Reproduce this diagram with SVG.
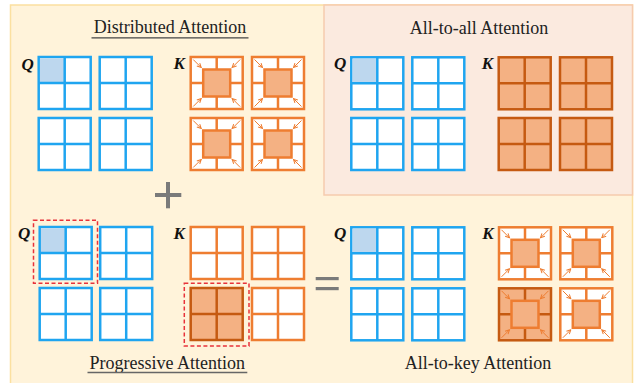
<svg xmlns="http://www.w3.org/2000/svg" width="635" height="383" viewBox="0 0 635 383">
<style>
.title{font-family:"Liberation Serif",serif;font-size:18px;fill:#222;text-anchor:middle}
.lbl{font-family:"Liberation Serif",serif;font-size:17px;font-weight:bold;font-style:italic;fill:#111}
.qb{fill:#fff;stroke:#1fa5f0;stroke-width:2.5}
.ql{stroke:#1fa5f0;stroke-width:2.5}
.kb{fill:#fff;stroke:#ee7d31;stroke-width:2.5}
.kl{stroke:#ee7d31;stroke-width:2.5}
.kfb{fill:#f4b183;stroke:#c55a11;stroke-width:2.5}
.kfl{stroke:#c55a11;stroke-width:2.5}
.inner{fill:#f4b183;stroke:#ee7d31;stroke-width:2.5}
.arr{stroke:#ee7d31;stroke-width:1;fill:none;marker-end:url(#ah)}
.red{fill:none;stroke:#e8323a;stroke-width:1.5;stroke-dasharray:4 2.5}
.op{fill:#7a7a7a}
</style>
<defs>
<marker id="ah" viewBox="0 0 8 8" refX="7" refY="4" markerWidth="5.5" markerHeight="5.5" orient="auto" markerUnits="userSpaceOnUse">
<path d="M1,1 L7,4 L1,7" fill="none" stroke="#ee7d31" stroke-width="1.5"/>
</marker>
<g id="qgrid"><rect class="qb" x="0" y="0" width="52" height="52"/><line class="ql" x1="26" y1="0" x2="26" y2="52"/><line class="ql" x1="0" y1="26" x2="52" y2="26"/></g>
<g id="qgridhl"><rect class="qb" x="0" y="0" width="52" height="52"/><rect x="1.25" y="1.25" width="24.75" height="24.75" fill="#bdd7ee"/><line class="ql" x1="26" y1="0" x2="26" y2="52"/><line class="ql" x1="0" y1="26" x2="52" y2="26"/></g>
<g id="kgrid"><rect class="kb" x="0" y="0" width="52" height="52"/><line class="kl" x1="26" y1="0" x2="26" y2="52"/><line class="kl" x1="0" y1="26" x2="52" y2="26"/></g>
<g id="kgridf"><rect class="kfb" x="0" y="0" width="52" height="52"/><line class="kfl" x1="26" y1="0" x2="26" y2="52"/><line class="kfl" x1="0" y1="26" x2="52" y2="26"/></g>
<g id="arrows">
<line class="arr" x1="2.5" y1="2.5" x2="10.5" y2="10.5"/>
<line class="arr" x1="49.5" y1="2.5" x2="41.5" y2="10.5"/>
<line class="arr" x1="2.5" y1="49.5" x2="10.5" y2="41.5"/>
<line class="arr" x1="49.5" y1="49.5" x2="41.5" y2="41.5"/>
</g>
<g id="kattn"><use href="#kgrid"/><rect class="inner" x="12.5" y="12.5" width="27" height="27"/><use href="#arrows"/></g>
<g id="kattnf"><use href="#kgridf"/><rect class="inner" x="12.5" y="12.5" width="27" height="27"/><use href="#arrows"/></g>
</defs>

<g id="background">
<rect x="10.5" y="5" width="622" height="395" fill="#fff3da" stroke="#fbe0a0" stroke-width="1.5"/>
<rect x="324" y="5" width="308.5" height="190" fill="#fbeadf" stroke="#f6cbae" stroke-width="1.5"/>
</g>

<g id="distributed">
<text class="title" x="170" y="33.3">Distributed Attention</text>
<line x1="91.5" y1="37.8" x2="248.5" y2="37.8" stroke="#444" stroke-width="1.2"/>
<text class="lbl" x="21.5" y="69.5">Q</text>
<use href="#qgridhl" x="38.7" y="57"/>
<use href="#qgrid" x="99.7" y="57"/>
<use href="#qgrid" x="38.7" y="118"/>
<use href="#qgrid" x="99.7" y="118"/>
<text class="lbl" x="173.5" y="68.5">K</text>
<use href="#kattn" x="190.7" y="57"/>
<use href="#kattn" x="252" y="57"/>
<use href="#kattn" x="190.7" y="118"/>
<use href="#kattn" x="252" y="118"/>
</g>

<g id="alltoall">
<text class="title" x="479" y="34.3">All-to-all Attention</text>
<text class="lbl" x="334" y="69">Q</text>
<use href="#qgridhl" x="351.3" y="57.3"/>
<use href="#qgrid" x="412.3" y="57.3"/>
<use href="#qgrid" x="351.3" y="118"/>
<use href="#qgrid" x="412.3" y="118"/>
<text class="lbl" x="481.8" y="68.5">K</text>
<use href="#kgridf" x="498.7" y="57.3"/>
<use href="#kgridf" x="560" y="57.3"/>
<use href="#kgridf" x="498.7" y="118"/>
<use href="#kgridf" x="560" y="118"/>
</g>

<g id="progressive">
<text class="title" x="167.3" y="368.5">Progressive Attention</text>
<line x1="87.5" y1="372.5" x2="247.3" y2="372.5" stroke="#666" stroke-width="1.5"/>
<text class="lbl" x="18" y="239">Q</text>
<use href="#qgridhl" x="39.7" y="227"/>
<use href="#qgrid" x="100.2" y="227"/>
<use href="#qgrid" x="39.7" y="288"/>
<use href="#qgrid" x="100.2" y="288"/>
<rect class="red" x="33.5" y="220.3" width="64" height="63"/>
<text class="lbl" x="173.5" y="239.3">K</text>
<use href="#kgrid" x="190.7" y="227"/>
<use href="#kgrid" x="252" y="227"/>
<use href="#kgridf" x="190.7" y="288"/>
<use href="#kgrid" x="252" y="288"/>
<rect class="red" x="184.3" y="283.3" width="64.7" height="62.7"/>
</g>

<g id="alltokey">
<text class="title" x="478" y="369.3">All-to-key Attention</text>
<text class="lbl" x="334" y="239">Q</text>
<use href="#qgridhl" x="351.3" y="227.3"/>
<use href="#qgrid" x="412.3" y="227.3"/>
<use href="#qgrid" x="351.3" y="288.3"/>
<use href="#qgrid" x="412.3" y="288.3"/>
<text class="lbl" x="482.2" y="239.3">K</text>
<use href="#kattn" x="499" y="227.3"/>
<use href="#kattn" x="560.3" y="227.3"/>
<use href="#kattnf" x="499" y="288.3"/>
<use href="#kattn" x="560.3" y="288.3"/>
</g>

<g id="connectors">
<rect class="op" x="155" y="193" width="26.3" height="4"/>
<rect class="op" x="166" y="182" width="4" height="26.3"/>
<rect class="op" x="315.7" y="277" width="23" height="3.2"/>
<rect class="op" x="315.7" y="287" width="23" height="3.2"/>
</g>
</svg>
